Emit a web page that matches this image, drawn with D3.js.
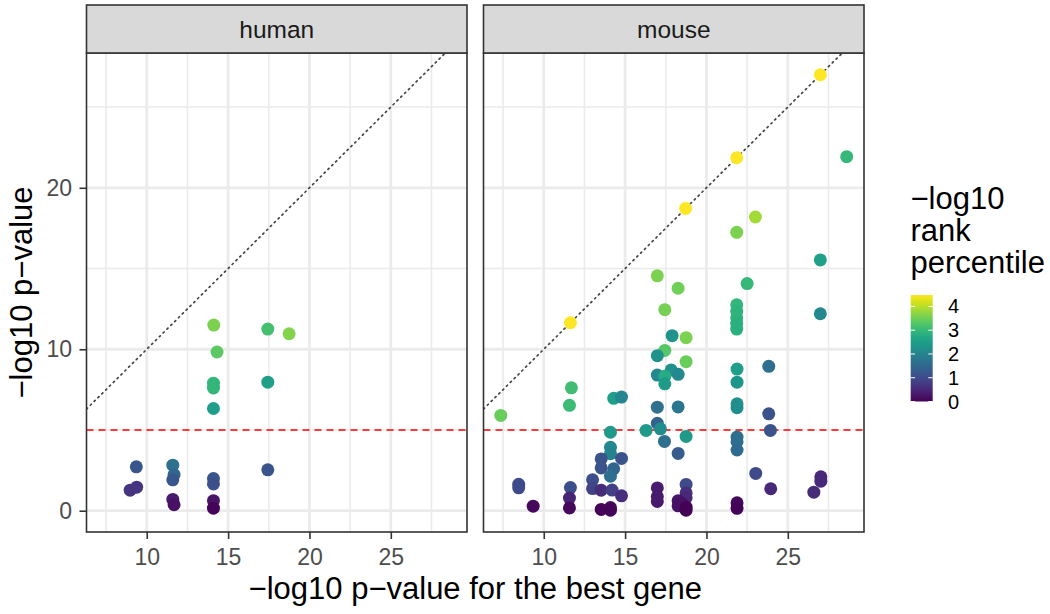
<!DOCTYPE html>
<html><head><meta charset="utf-8">
<script src="https://cdn.jsdelivr.net/npm/d3@7"></script>
<style>body{margin:0;background:#fff} text{font-family:"Liberation Sans",Arial,Helvetica,sans-serif}</style>
</head><body><svg id="c" width="1050" height="614"></svg>
<script>
const facets = ["human", "mouse"];

const humanX = [14.12, 17.44, 18.75, 14.32, 14.1, 14.1, 17.44, 14.1, 9.36, 9.38, 8.98, 11.6, 11.68, 11.6, 11.6, 11.68, 14.1, 14.1, 14.1, 14.1, 17.44];
const humanY = [11.5, 11.25, 10.96, 9.83, 7.9, 7.6, 7.96, 6.33, 2.72, 1.46, 1.27, 2.82, 2.24, 1.91, 0.7, 0.37, 1.99, 1.66, 0.62, 0.16, 2.53];
const humanC = [3.6, 3.15, 3.65, 3.35, 2.95, 2.95, 2.5, 2.5, 1.2, 0.7, 0.7, 1.65, 1.5, 1.2, 0.35, 0.2, 1.2, 1.1, 0.25, 0.05, 1.15];

const mouseX = [27.0, 21.86, 18.72, 11.64, 28.62, 23.01, 21.86, 27.0, 16.98, 18.26, 22.5,
  21.86, 21.86, 21.86, 21.86, 21.86, 17.44, 27.0, 17.89, 18.75, 17.44, 16.98, 18.75, 16.98,
  17.83, 18.26, 17.44, 17.44, 21.88, 21.88, 21.88, 21.88, 23.83, 23.83, 23.93, 11.7, 11.58,
  7.36, 14.3, 14.78, 16.98, 18.26, 16.98, 17.17, 16.29, 14.1, 18.75, 17.42, 18.26, 21.88,
  21.88, 21.88, 14.1, 14.1, 13.53, 14.78, 14.3, 13.53, 14.1, 13.0, 13.0, 13.53, 14.2, 14.78,
  13.53, 14.1, 14.1, 8.46, 8.46, 9.35, 11.64, 11.58, 11.58, 16.98, 16.98, 16.98, 18.75, 18.75,
  18.75, 18.26, 18.26, 18.5, 18.75, 18.75, 21.88, 21.88, 23.03, 23.95, 26.6, 27.03, 27.03];
const mouseY = [27.0, 21.86, 18.72, 11.64, 21.93, 18.19, 17.24, 15.53, 14.55, 13.78, 14.07,
  12.75, 12.35, 11.95, 11.6, 11.25, 12.45, 12.2, 10.84, 10.72, 9.93, 9.6, 9.23, 8.4,
  8.72, 8.45, 8.33, 7.86, 8.77, 7.96, 6.62, 6.38, 8.94, 6.0, 4.97, 7.61, 6.53,
  5.9, 6.96, 7.04, 6.41, 6.43, 5.41, 5.07, 4.97, 4.86, 4.6, 4.29, 3.55, 4.56,
  4.27, 3.76, 3.93, 3.53, 3.21, 3.24, 2.6, 2.65, 2.14, 1.91, 1.37, 1.27, 1.28, 0.92,
  0.08, 0.2, 0.03, 1.64, 1.42, 0.28, 1.43, 0.78, 0.17, 1.41, 0.88, 0.57, 1.63, 1.1,
  0.8, 0.62, 0.3, 0.45, 0.22, 0.03, 0.49, 0.15, 2.31, 1.36, 1.15, 2.1, 1.83];
const mouseC = [4.48, 4.48, 4.48, 4.48, 3.0, 3.85, 3.6, 2.55, 3.6, 3.5, 3.0,
  2.95, 2.9, 2.9, 2.85, 2.85, 3.55, 2.1, 2.3, 3.6, 3.3, 2.25, 3.45, 2.1,
  2.25, 2.1, 2.75, 2.45, 2.5, 2.35, 2.25, 2.2, 1.6, 1.15, 1.15, 3.1, 3.05,
  3.45, 2.5, 2.05, 1.65, 1.75, 1.4, 2.2, 2.4, 2.4, 2.4, 1.6, 1.3, 1.65,
  1.6, 1.55, 2.05, 2.0, 1.15, 1.15, 1.45, 1.15, 1.6, 1.05, 0.9, 0.55, 0.85, 0.6,
  0.05, 0.1, 0.05, 1.0, 1.0, 0.1, 1.1, 0.45, 0.1, 0.35, 0.3, 0.3, 1.0, 0.6,
  0.5, 0.25, 0.2, 0.2, 0.05, 0.02, 0.1, 0.05, 1.0, 0.5, 0.55, 0.5, 0.5];

const xTicks = [10, 15, 20, 25];
const xMinor = [7.5, 12.5, 17.5, 22.5, 27.5];
const yTicks = [0, 10, 20];
const yMinor = [5, 15, 25];
const legendTicks = [0, 1, 2, 3, 4];
const thresholdY = 5;
const colorMax = 4.48;
const xTitle = "\u2212log10 p\u2212value for the best gene";
const yTitle = "\u2212log10 p\u2212value";
const legendTitle = ["\u2212log10", "rank", "percentile"];

const panelData = [
  humanX.map((v, i) => ({x: v, y: humanY[i], c: humanC[i]})),
  mouseX.map((v, i) => ({x: v, y: mouseY[i], c: mouseC[i]}))
];

const svg = d3.select("#c");
const panelW = 380.5, panelH = 479, panelTop = 53, stripH = 48;
const panelLeft = [86.5, 483.5];

function expand(e) { const d = e[1] - e[0]; return [e[0] - 0.05 * d, e[1] + 0.05 * d]; }
const x = d3.scaleLinear().domain(expand(d3.extent(humanX.concat(mouseX)))).range([0, panelW]);
const y = d3.scaleLinear().domain(expand(d3.extent(humanY.concat(mouseY)))).range([panelH, 0]);
const color = d3.scaleSequential(d3.interpolateViridis).domain([0, colorMax]);

svg.append("rect").attr("width", 1050).attr("height", 614).attr("fill", "#fff");

facets.forEach((name, i) => {
  const g = svg.append("g").attr("transform", `translate(${panelLeft[i]},${panelTop})`);
  const clipId = "clip" + i;
  g.append("clipPath").attr("id", clipId).append("rect").attr("width", panelW).attr("height", panelH);
  g.append("rect").attr("width", panelW).attr("height", panelH).attr("fill", "#fff");
  const grid = g.append("g");
  grid.selectAll(".vmin").data(xMinor).join("line")
    .attr("x1", d => x(d)).attr("x2", d => x(d)).attr("y1", 0).attr("y2", panelH)
    .attr("stroke", "#EBEBEB").attr("stroke-width", 1.6);
  grid.selectAll(".hmin").data(yMinor).join("line")
    .attr("y1", d => y(d)).attr("y2", d => y(d)).attr("x1", 0).attr("x2", panelW)
    .attr("stroke", "#EBEBEB").attr("stroke-width", 1.6);
  grid.selectAll(".vmaj").data(xTicks).join("line")
    .attr("x1", d => x(d)).attr("x2", d => x(d)).attr("y1", 0).attr("y2", panelH)
    .attr("stroke", "#EBEBEB").attr("stroke-width", 2.8);
  grid.selectAll(".hmaj").data(yTicks).join("line")
    .attr("y1", d => y(d)).attr("y2", d => y(d)).attr("x1", 0).attr("x2", panelW)
    .attr("stroke", "#EBEBEB").attr("stroke-width", 2.8);

  const plot = g.append("g").attr("clip-path", `url(#${clipId})`);
  const xd = x.domain(), yd = y.domain();
  const lo = Math.max(xd[0], yd[0]), hi = Math.min(xd[1], yd[1]);
  plot.append("line")
    .attr("x1", x(lo)).attr("y1", y(lo)).attr("x2", x(hi)).attr("y2", y(hi))
    .attr("stroke", "#444").attr("stroke-width", 1.7)
    .attr("stroke-dasharray", "1.4,4").attr("stroke-linecap", "round");
  plot.append("line")
    .attr("x1", 0).attr("x2", panelW).attr("y1", y(thresholdY)).attr("y2", y(thresholdY))
    .attr("stroke", "#FF0000").attr("stroke-width", 1.6).attr("stroke-dasharray", "7,5");
  plot.selectAll("circle").data(panelData[i]).join("circle")
    .attr("cx", d => x(d.x)).attr("cy", d => y(d.y)).attr("r", 6.5)
    .attr("fill", d => color(d.c));

  g.append("rect").attr("width", panelW).attr("height", panelH)
    .attr("fill", "none").attr("stroke", "#333").attr("stroke-width", 1.6);

  // strip
  g.append("rect").attr("y", -stripH).attr("width", panelW).attr("height", stripH)
    .attr("fill", "#D9D9D9").attr("stroke", "#333").attr("stroke-width", 1.6);
  g.append("text").attr("x", panelW / 2).attr("y", -stripH / 2)
    .attr("text-anchor", "middle").attr("dominant-baseline", "central")
    .attr("font-size", 24.5).attr("fill", "#1A1A1A").text(name);

  // bottom axis
  const ax = g.append("g").attr("transform", `translate(0,${panelH})`)
    .call(d3.axisBottom(x).tickValues(xTicks).tickSize(7).tickPadding(9.5).tickFormat(d3.format("d")));
  ax.select(".domain").remove();
  ax.selectAll("line").attr("stroke", "#333").attr("stroke-width", 1.6);
  ax.selectAll("text").attr("font-size", 23).attr("fill", "#4D4D4D").attr("font-family", null);

  if (i === 0) {
    const ay = g.append("g")
      .call(d3.axisLeft(y).tickValues(yTicks).tickSize(7).tickPadding(7.5).tickFormat(d3.format("d")));
    ay.select(".domain").remove();
    ay.selectAll("line").attr("stroke", "#333").attr("stroke-width", 1.6);
    ay.selectAll("text").attr("font-size", 23).attr("fill", "#4D4D4D").attr("font-family", null);
  }
});

// axis titles
svg.append("text").attr("x", (panelLeft[0] + panelLeft[1] + panelW) / 2).attr("y", 599)
  .attr("text-anchor", "middle").attr("font-size", 31).attr("fill", "#000").text(xTitle);
svg.append("text").attr("transform", `translate(21,${panelTop + panelH / 2}) rotate(-90)`)
  .attr("text-anchor", "middle").attr("dominant-baseline", "central")
  .attr("font-size", 31).attr("fill", "#000").text(yTitle);

// legend
const lg = svg.append("g");
legendTitle.forEach((t, k) => {
  lg.append("text").attr("x", 910.5).attr("y", 209 + k * 32)
    .attr("font-size", 31).attr("fill", "#000").text(t);
});
const barX = 910.7, barW = 22, barTop = 295, barBottom = 401.5;
const ls = d3.scaleLinear().domain([0, colorMax]).range([barBottom, barTop]);
const grad = svg.append("defs").append("linearGradient").attr("id", "vgrad")
  .attr("x1", 0).attr("y1", 1).attr("x2", 0).attr("y2", 0);
d3.range(0, 1.0001, 0.05).forEach(t => {
  grad.append("stop").attr("offset", t).attr("stop-color", color(t * colorMax));
});
lg.append("rect").attr("x", barX).attr("y", barTop).attr("width", barW).attr("height", barBottom - barTop)
  .attr("fill", "url(#vgrad)");
legendTicks.forEach(v => {
  lg.append("line").attr("x1", barX).attr("x2", barX + barW / 5).attr("y1", ls(v)).attr("y2", ls(v))
    .attr("stroke", "#fff").attr("stroke-width", 1);
  lg.append("line").attr("x1", barX + barW - barW / 5).attr("x2", barX + barW).attr("y1", ls(v)).attr("y2", ls(v))
    .attr("stroke", "#fff").attr("stroke-width", 1);
  lg.append("text").attr("x", 948).attr("y", ls(v)).attr("dominant-baseline", "central")
    .attr("font-size", 20).attr("fill", "#000").text(v);
});
</script></body></html>
